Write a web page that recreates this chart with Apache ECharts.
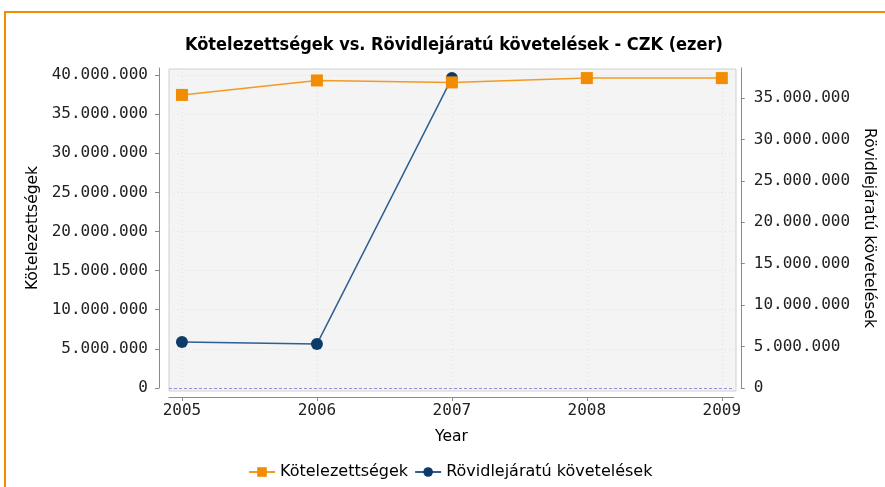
<!DOCTYPE html>
<html>
<head>
<meta charset="utf-8">
<script src="https://cdn.jsdelivr.net/npm/echarts@6/dist/echarts.min.js"></script>
<style>html,body{margin:0;padding:0;background:#fff}#c{width:885px;height:487px}</style>
</head>
<body>
<div id="c"></div>
<script>
const years = [2005, 2006, 2007, 2008, 2009];
const kotelezettsegek = [37450000, 39300000, 39050000, 39600000, 39600000];
const rovidlejaratu = [5550000, 5300000, 37400000, null, null];
const leftTicks = [0, 5000000, 10000000, 15000000, 20000000, 25000000, 30000000, 35000000, 40000000];
const rightTicks = [0, 5000000, 10000000, 15000000, 20000000, 25000000, 30000000, 35000000];
const titleText = 'Kötelezettségek vs. Rövidlejáratú követelések - CZK (ezer)';
const leftName = 'Kötelezettségek';
const rightName = 'Rövidlejáratú követelések';
const xName = 'Year';

function fmt(v) {
  return String(Math.round(v)).replace(/\B(?=(\d{3})+(?!\d))/g, '.');
}

const chart = echarts.init(document.getElementById('c'), null, {renderer: 'canvas'});
const axisColor = '#8a8a8a';
const labelFont = 'DejaVu Sans Mono';
const nameStyle = {fontFamily: 'DejaVu Sans', fontSize: 15.5, color: '#000'};
chart.setOption({
  animation: false,
  backgroundColor: '#ffffff',
  title: {
    text: titleText,
    left: 180,
    top: 31,
    textStyle: {fontFamily: 'DejaVu Sans Condensed', fontWeight: 'bold', fontSize: 18, color: '#000'}
  },
  graphic: [{
    type: 'rect', silent: true, z: -10,
    shape: {x: 5, y: 12, width: 1000, height: 1000},
    style: {fill: 'none', stroke: '#f08c00', lineWidth: 2}
  }],
  legend: {
    bottom: 2,
    left: 243,
    itemWidth: 26,
    itemHeight: 12,
    itemGap: 6,
    textStyle: {fontFamily: 'DejaVu Sans', fontSize: 16, color: '#000'},
    data: [leftName, rightName]
  },
  grid: [
    {left: 169, right: 149, top: 68, bottom: 99},
    {left: 169, right: 149, top: 69, bottom: 96, show: true, backgroundColor: '#f4f4f4', borderColor: '#cfcfcf', borderWidth: 1, z: -1}
  ],
  xAxis: [{
    gridIndex: 0,
    type: 'value',
    min: 2004.904,
    max: 2009.0886,
    interval: 1,
    offset: 9,
    axisLine: {show: true, onZero: false, lineStyle: {color: axisColor}},
    axisTick: {show: true, length: 4, customValues: years, lineStyle: {color: axisColor}},
    axisLabel: {customValues: years, margin: 6, fontFamily: labelFont, fontSize: 16, color: '#222', formatter: v => String(v)},
    splitLine: {show: true, lineStyle: {color: '#e2e2e2', type: [1, 3]}},
    name: xName,
    nameLocation: 'middle',
    nameGap: 32,
    nameTextStyle: nameStyle
  }, {
    gridIndex: 1,
    type: 'value',
    min: 0, max: 1,
    show: false
  }],
  yAxis: [{
    gridIndex: 0,
    type: 'value',
    position: 'left',
    min: 0,
    max: 40890000,
    interval: 5000000,
    offset: 10,
    axisLine: {show: true, onZero: false, lineStyle: {color: axisColor}},
    axisTick: {show: true, length: 4, customValues: leftTicks, lineStyle: {color: axisColor}},
    axisLabel: {customValues: leftTicks, margin: 11, fontFamily: labelFont, fontSize: 16, color: '#222', formatter: fmt},
    splitLine: {show: true, lineStyle: {color: '#e2e2e2', type: [1, 3]}},
    name: leftName,
    nameLocation: 'middle',
    nameGap: 105,
    nameTextStyle: nameStyle
  }, {
    gridIndex: 0,
    type: 'value',
    position: 'right',
    min: 0,
    max: 38620000,
    interval: 5000000,
    offset: 7,
    axisLine: {show: true, onZero: false, lineStyle: {color: axisColor}},
    axisTick: {show: true, length: 4, customValues: rightTicks, lineStyle: {color: axisColor}},
    axisLabel: {customValues: rightTicks, margin: 13, fontFamily: labelFont, fontSize: 16, color: '#222', formatter: fmt},
    splitLine: {show: false},
    name: rightName,
    nameLocation: 'middle',
    nameRotate: -90,
    nameGap: 107,
    nameTextStyle: nameStyle
  }, {
    gridIndex: 1,
    type: 'value',
    min: 0, max: 1,
    show: false
  }],
  series: [{
    name: leftName,
    type: 'line',
    xAxisIndex: 0,
    yAxisIndex: 0,
    data: years.map((y, i) => [y, kotelezettsegek[i]]),
    symbol: 'rect',
    symbolSize: 12,
    itemStyle: {color: '#f28c00'},
    lineStyle: {color: '#f39a22', width: 1.5},
    z: 3,
    markLine: {
      silent: true,
      symbol: 'none',
      label: {show: false},
      lineStyle: {color: '#8f8fdc', type: [3, 2], width: 1},
      data: [{yAxis: 0}]
    }
  }, {
    name: rightName,
    type: 'line',
    xAxisIndex: 0,
    yAxisIndex: 1,
    data: years.map((y, i) => [y, rovidlejaratu[i]]),
    symbol: 'circle',
    symbolSize: 12,
    itemStyle: {color: '#0c3b69'},
    lineStyle: {color: '#2d5f90', width: 1.5},
    z: 2
  }]
});
</script>
</body>
</html>
